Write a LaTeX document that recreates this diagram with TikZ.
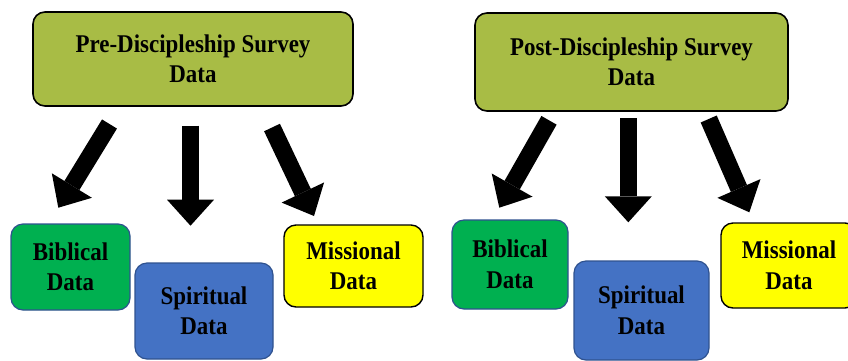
\documentclass[tikz,border=0pt]{standalone}
\usepackage{fontspec}
\setmainfont{Liberation Serif}[FakeStretch=0.9]
\usepackage{tikz}
\usetikzlibrary{arrows.meta}

\definecolor{surveyolive}{HTML}{A8BC45}
\definecolor{biblegreen}{HTML}{00B050}
\definecolor{spiritblue}{HTML}{4472C4}
\definecolor{edgeblue}{HTML}{2F528F}
\definecolor{missionyellow}{HTML}{FFFF00}

\begin{document}
\begin{tikzpicture}[x=1pt, y=-1pt,
        databox/.style={draw, rounded corners=12pt, align=center, inner sep=2pt,
            font=\fontsize{25.5}{30.5}\selectfont\bfseries},
        surveybox/.style={databox, fill=surveyolive, draw=black, line width=1.6pt},
        biblebox/.style={databox, fill=biblegreen, draw=edgeblue, line width=1.2pt},
        spiritbox/.style={databox, fill=spiritblue, draw=edgeblue, line width=1.2pt},
        missionbox/.style={databox, fill=missionyellow, draw=black, line width=1.4pt},
        fatarrow/.style={line width=17.5pt,
            -{Triangle[length=26pt 0 0, width=47pt 0 0, line width=0pt]}}]
        \useasboundingbox (0,0) rectangle (848,360);

        % pre-discipleship side
        \node[surveybox, minimum width=320pt, minimum height=94pt] (preTop) at (193,59)
            {Pre-Discipleship Survey\\Data};
        \node[biblebox, minimum width=119pt, minimum height=86pt] (preBib) at (70.5,267)
            {Biblical\\Data};
        \node[spiritbox, minimum width=138pt, minimum height=96pt] (preSpi) at (204,311)
            {Spiritual\\Data};
        \node[missionbox, minimum width=139pt, minimum height=82pt] (preMis) at (353.5,266)
            {Missional\\Data};

        \coordinate (preTailA) at (109.5,124);
        \coordinate (preTipA) at (58.3,207.7);
        \coordinate (preTailB) at (190.5,125.7);
        \coordinate (preTipB) at (190.5,225.7);
        \coordinate (preTailC) at (272,127.5);
        \coordinate (preTipC) at (314,216);

        \draw[fatarrow] (preTailA) -- (preTipA);
        \draw[fatarrow] (preTailB) -- (preTipB);
        \draw[fatarrow] (preTailC) -- (preTipC);

        % post-discipleship side
        \node[surveybox, minimum width=313pt, minimum height=98pt] (postTop) at (631.5,62)
            {Post-Discipleship Survey\\Data};
        \node[biblebox, minimum width=116pt, minimum height=89pt] (postBib) at (510,264.5)
            {Biblical\\Data};
        \node[spiritbox, minimum width=135pt, minimum height=99pt] (postSpi) at (641.5,310.5)
            {Spiritual\\Data};
        \node[missionbox, minimum width=136pt, minimum height=85pt] (postMis) at (789,265.5)
            {Missional\\Data};

        \coordinate (postTailA) at (549,120.3);
        \coordinate (postTipA) at (499.3,207.7);
        \coordinate (postTailB) at (628.3,118.3);
        \coordinate (postTipB) at (628.3,222.3);
        \coordinate (postTailC) at (708.7,119);
        \coordinate (postTipC) at (749.3,212.3);

        \draw[fatarrow] (postTailA) -- (postTipA);
        \draw[fatarrow] (postTailB) -- (postTipB);
        \draw[fatarrow] (postTailC) -- (postTipC);
\end{tikzpicture}
\end{document}
